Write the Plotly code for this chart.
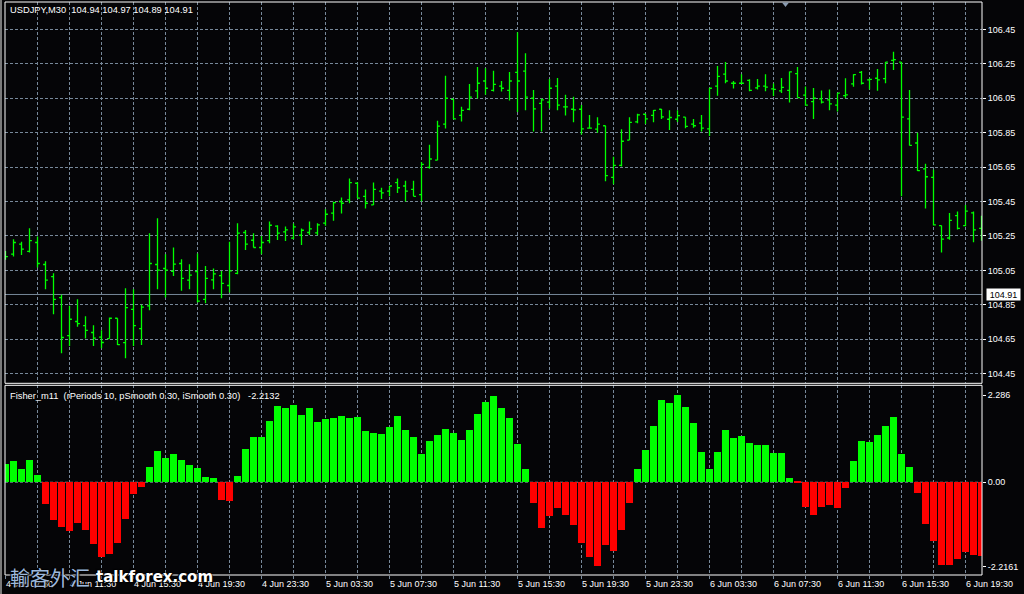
import plotly.graph_objects as go

# ---------------- data ----------------
BAR_INDEX = list(range(123))

OPEN = [105.134,105.144,105.202,105.160,105.212,105.084,105.014,104.892,104.671,104.753,
        104.729,104.689,104.662,104.654,104.772,104.630,104.824,104.712,104.844,105.084,
        105.061,105.045,105.090,104.993,105.043,104.882,104.995,105.020,104.962,105.032,
        105.270,105.225,105.183,105.223,105.307,105.274,105.237,105.254,105.270,105.268,
        105.324,105.382,105.450,105.460,105.556,105.480,105.430,105.510,105.510,105.560,
        105.540,105.520,105.490,105.648,105.690,105.900,106.044,105.950,105.986,106.093,
        106.150,106.096,106.120,106.096,106.200,106.207,106.050,106.020,106.027,106.120,
        106.000,105.986,105.986,105.876,105.870,105.890,105.590,105.660,105.807,105.913,
        105.957,105.950,105.986,105.928,105.928,105.940,105.900,105.905,105.872,106.120,
        106.190,106.137,106.137,106.154,106.110,106.120,106.104,106.093,106.096,106.193,
        106.068,106.030,106.046,106.040,106.010,106.065,106.133,106.200,106.157,106.166,
        106.164,106.270,106.260,105.930,105.790,105.640,105.590,105.310,105.238,105.368,
        105.310,105.384,105.294]
HIGH = [105.163,105.231,105.216,105.295,105.247,105.103,105.034,104.908,104.844,104.882,
        104.784,104.731,104.702,104.776,104.772,104.946,104.941,104.851,105.266,105.353,
        105.144,105.183,105.115,105.086,105.148,105.076,105.061,105.047,105.216,105.324,
        105.285,105.266,105.250,105.334,105.312,105.305,105.322,105.293,105.334,105.324,
        105.405,105.448,105.474,105.583,105.562,105.520,105.560,105.530,105.540,105.583,
        105.570,105.570,105.679,105.780,105.919,106.180,106.044,106.000,106.133,106.232,
        106.224,106.210,106.150,106.203,106.433,106.311,106.098,106.048,106.162,106.168,
        106.070,106.058,106.010,105.953,105.940,105.890,105.710,105.870,105.940,105.960,
        105.960,105.982,105.988,105.980,105.980,105.940,105.930,105.953,106.110,106.237,
        106.260,106.150,106.190,106.160,106.162,106.190,106.135,106.168,106.205,106.232,
        106.118,106.110,106.095,106.100,106.080,106.166,106.190,106.208,106.164,106.220,
        106.260,106.320,106.260,106.098,105.850,105.670,105.635,105.310,105.384,105.392,
        105.430,105.392,105.368]
LOW = [105.111,105.130,105.140,105.154,105.066,104.940,104.795,104.569,104.611,104.722,
       104.654,104.610,104.598,104.654,104.617,104.540,104.611,104.617,104.819,104.941,
       104.892,105.018,104.931,104.941,104.863,104.859,104.941,104.888,104.921,105.028,
       105.169,105.183,105.144,105.208,105.227,105.221,105.231,105.198,105.256,105.254,
       105.309,105.338,105.380,105.440,105.470,105.410,105.430,105.465,105.480,105.500,
       105.450,105.480,105.450,105.640,105.689,105.874,105.930,105.915,105.980,106.048,
       106.070,106.089,106.089,106.037,105.970,105.980,105.857,105.857,105.990,105.980,
       105.950,105.910,105.840,105.874,105.850,105.567,105.550,105.654,105.807,105.905,
       105.900,105.910,105.930,105.866,105.912,105.876,105.878,105.857,105.830,106.065,
       106.137,106.106,106.133,106.090,106.100,106.090,106.063,106.080,106.025,106.054,
       106.006,105.930,106.020,105.980,105.973,106.050,106.117,106.130,106.100,106.094,
       106.137,106.214,105.480,105.776,105.627,105.410,105.310,105.154,105.228,105.287,
       105.306,105.213,105.222]
CLOSE = [105.130,105.212,105.173,105.223,105.090,104.993,104.882,104.660,104.766,104.741,
         104.702,104.656,104.631,104.772,104.619,104.834,104.729,104.836,105.090,105.051,
         105.051,105.086,105.003,105.022,104.871,105.003,105.030,104.974,105.047,105.266,
         105.202,105.183,105.212,105.312,105.266,105.285,105.303,105.283,105.291,105.314,
         105.376,105.444,105.440,105.560,105.470,105.440,105.520,105.500,105.540,105.530,
         105.510,105.480,105.666,105.697,105.888,106.050,105.930,105.980,106.056,106.137,
         106.108,106.130,106.108,106.150,106.150,106.056,105.988,106.040,106.108,106.010,
         106.000,105.982,105.872,105.876,105.900,105.600,105.660,105.800,105.910,105.953,
         105.930,105.980,105.942,105.938,105.949,105.886,105.890,105.876,106.108,106.177,
         106.150,106.137,106.137,106.096,106.120,106.115,106.102,106.113,106.203,106.054,
         106.010,106.050,106.027,106.017,106.080,106.070,106.187,106.137,106.160,106.157,
         106.260,106.274,105.940,105.776,105.630,105.594,105.314,105.232,105.340,105.294,
         105.394,105.285,105.290]

FISHER = [0.472,0.551,0.341,0.577,0.184,-0.568,-0.988,-1.171,-1.276,-1.066,
          -1.250,-1.617,-1.958,-1.879,-1.591,-0.962,-0.306,-0.122,0.393,0.813,
          0.629,0.734,0.577,0.446,0.367,0.131,0.105,-0.463,-0.490,0.157,
          0.865,1.180,1.180,1.600,2.002,1.941,2.019,1.757,1.941,1.573,
          1.652,1.678,1.731,1.678,1.705,1.337,1.285,1.259,1.442,1.731,
          1.364,1.180,0.734,1.075,1.233,1.390,1.285,1.101,1.364,1.783,
          2.098,2.255,1.941,1.678,0.997,0.341,-0.542,-1.198,-0.883,-0.673,
          -0.857,-1.119,-1.591,-1.958,-2.2161,-1.643,-1.801,-1.250,-0.542,0.341,
          0.839,1.469,2.150,2.072,2.286,1.967,1.547,0.787,0.341,0.787,
          1.364,1.154,1.206,1.023,0.970,0.970,0.760,0.760,0.105,-0.030,
          -0.656,-0.865,-0.656,-0.603,-0.682,-0.157,0.551,1.075,1.049,1.233,
          1.469,1.705,0.734,0.393,-0.288,-1.101,-1.547,-2.177,-2.177,-2.019,
          -1.836,-1.914,-1.932]

TIME_LABELS = ["4 Jun 07:30", "4 Jun 11:30", "4 Jun 15:30", "4 Jun 19:30",
               "4 Jun 23:30", "5 Jun 03:30", "5 Jun 07:30", "5 Jun 11:30",
               "5 Jun 15:30", "5 Jun 19:30", "5 Jun 23:30", "6 Jun 03:30",
               "6 Jun 07:30", "6 Jun 11:30", "6 Jun 15:30", "6 Jun 19:30"]
PRICE_TICKS = [104.45, 104.65, 104.85, 105.05, 105.25, 105.45, 105.65, 105.85, 106.05, 106.25, 106.45]
IND_TICKS = [-2.2161, 0.0, 2.286]
IND_TICKTEXT = ["-2.2161", "0.00", "2.286"]
BID = 104.91
HEADER = "USDJPY,M30\u00a0\u00a0104.94 104.97 104.89 104.91"
IND_HEADER = "Fisher_m11\u00a0\u00a0(rPeriods 10, pSmooth 0.30, iSmooth 0.30)\u00a0\u00a0\u00a0-2.2132"

# ---------------- style ----------------
BG = "#050507"
GRID = "#778899"
FONT = "Liberation Sans"
W, H = 1024, 594
ML, MR, MT, MB = 5, 42, 2, 19
PH = H - MT - MB
PW = W - ML - MR
MAIN_DOM = [(575 - 383.3) / PH, 1.0]
IND_DOM = [0.0, (575 - 385.3) / PH]

# grid every 4 bars, labels every 8 bars
grid_vals = list(range(0, 121, 4))
grid_text = []
for v in grid_vals:
    grid_text.append(TIME_LABELS[v // 8] if v % 8 == 0 else "")

fig = go.Figure()
fig.add_trace(go.Ohlc(
    x=BAR_INDEX, open=OPEN, high=HIGH, low=LOW, close=CLOSE,
    increasing_line_color="#00ff00", decreasing_line_color="#00ff00",
    line_width=1.3, tickwidth=0.3, xaxis="x2", yaxis="y2", hoverinfo="skip",
))
fig.add_trace(go.Bar(
    x=BAR_INDEX, y=FISHER, width=0.875,
    marker_color=["#00ff00" if v >= 0 else "#ff0000" for v in FISHER],
    marker_line_width=0, xaxis="x", yaxis="y", hoverinfo="skip",
))

axis_font = dict(family=FONT, size=9, color="white")
xcommon = dict(range=[-0.0625, 122.0625], tickmode="array", tickvals=grid_vals,
               showgrid=True, gridcolor=GRID, gridwidth=1, griddash="3px,2px",
               zeroline=False, showline=False, fixedrange=True)

fig.update_layout(
    width=W, height=H,
    margin=dict(l=ML, r=MR, t=MT, b=MB, pad=0),
    paper_bgcolor=BG, plot_bgcolor=BG,
    showlegend=False, hovermode=False,
    font=axis_font,
    xaxis=dict(**xcommon, domain=[0, 1], anchor="y", ticktext=grid_text,
               ticks="outside", ticklen=3, tickcolor=GRID,
               ticklabelposition="outside right", tickfont=axis_font,
               rangeslider=dict(visible=False)),
    xaxis2=dict(**xcommon, domain=[0, 1], anchor="y2", matches="x",
                showticklabels=False, rangeslider=dict(visible=False)),
    yaxis=dict(domain=IND_DOM, range=[-2.433, 2.541], side="right",
               tickmode="array", tickvals=IND_TICKS, ticktext=IND_TICKTEXT,
               showgrid=False, zeroline=False, ticks="outside", ticklen=3,
               tickcolor="white", tickfont=axis_font, fixedrange=True),
    yaxis2=dict(domain=MAIN_DOM, range=[104.394, 106.609], side="right",
                tickmode="array", tickvals=PRICE_TICKS,
                ticktext=[f"{p:.2f}" for p in PRICE_TICKS],
                showgrid=True, gridcolor=GRID, gridwidth=1, griddash="3px,2px",
                zeroline=False, ticks="outside", ticklen=3, tickcolor="white",
                tickfont=axis_font, fixedrange=True),
    bargap=0,
)

shapes = [
    # zero level of the indicator
    dict(type="line", xref="paper", x0=0, x1=1, yref="y", y0=0, y1=0,
         line=dict(color=GRID, width=1, dash="3px,2px"), layer="between"),
    # bid line
    dict(type="line", xref="paper", x0=0, x1=1, yref="y2", y0=BID, y1=BID,
         line=dict(color=GRID, width=1), layer="between"),
    # panel frames
    dict(type="rect", xref="paper", yref="paper", x0=0, x1=1, y0=MAIN_DOM[0], y1=MAIN_DOM[1],
         line=dict(color="white", width=1)),
    dict(type="rect", xref="paper", yref="paper", x0=0, x1=1, y0=IND_DOM[0], y1=IND_DOM[1],
         line=dict(color="white", width=1)),
    # window edge on the left
    dict(type="line", xref="paper", yref="paper", x0=(1 - ML) / PW, x1=(1 - ML) / PW,
         y0=-MB / PH, y1=1 + MT / PH, line=dict(color="#7a7a7a", width=2)),
    # chart shift marker
    dict(type="path", xref="paper", yref="paper",
         path=f"M {(782-ML)/PW} {1-0.5/PH} L {(789-ML)/PW} {1-0.5/PH} L {(785.5-ML)/PW} {1-5/PH} Z",
         fillcolor="#8a9bb0", line=dict(width=0)),
]
fig.update_layout(shapes=shapes)

annotations = [
    dict(text=HEADER, xref="paper", yref="paper", x=(8 - ML) / PW, y=(575 - 10.5) / PH,
         xanchor="left", yanchor="middle", showarrow=False,
         font=dict(family=FONT, size=9.3, color="white")),
    dict(text=IND_HEADER, xref="paper", yref="paper", x=(8 - ML) / PW, y=(575 - 395.5) / PH,
         xanchor="left", yanchor="middle", showarrow=False,
         font=dict(family=FONT, size=9.3, color="white")),
    dict(text="104.91", xref="paper", yref="y2", x=1 + 3.5 / PW, y=BID,
         xanchor="left", yanchor="middle", showarrow=False, bgcolor="white",
         width=33, height=11, borderpad=0,
         font=dict(family=FONT, size=9, color="black")),
    dict(text="輸客外汇", xref="paper", yref="paper", x=(8 - ML) / PW, y=(575 - 577) / PH,
         xanchor="left", yanchor="middle", showarrow=False,
         font=dict(family="Noto Sans CJK SC", size=20, color="#9db8dc",
                   shadow="1px 1px 1px #000, -1px -1px 1px #000")),
    dict(text="<b>talkforex.com</b>", xref="paper", yref="paper", x=(94 - ML) / PW, y=(575 - 577) / PH,
         xanchor="left", yanchor="middle", showarrow=False,
         font=dict(family="DejaVu Sans", size=15, color="white",
                   shadow="1px 1px 1px #000, -1px -1px 1px #000")),
]
fig.update_layout(annotations=annotations)

fig.write_html(
    "out.html",
    config={"displayModeBar": False},
    post_script="document.body.style.margin='0';document.body.style.background='" + BG + "';",
)
